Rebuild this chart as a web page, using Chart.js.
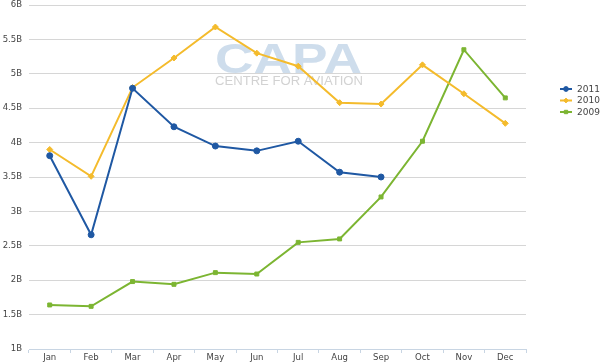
<!DOCTYPE html>
<html>
<head>
<meta charset="utf-8">
<script src="https://cdn.jsdelivr.net/npm/chart.js@4/dist/chart.umd.min.js"></script>
<style>
html,body{margin:0;padding:0;background:#fff;}
#wrap{width:600px;height:362px;position:relative;}
</style>
</head>
<body>
<div id="wrap"><canvas id="c" width="600" height="362"></canvas></div>
<script>
const categories = ["Jan","Feb","Mar","Apr","May","Jun","Jul","Aug","Sep","Oct","Nov","Dec"];
const seriesNames = ["2011","2010","2009"];
const values2011 = [3.81,2.66,4.79,4.23,3.95,3.88,4.02,3.57,3.50,null,null,null];
const values2010 = [3.90,3.51,4.80,5.23,5.68,5.30,5.11,4.58,4.56,5.13,4.71,4.28];
const values2009 = [1.64,1.62,1.98,1.94,2.11,2.09,2.55,2.60,3.21,4.02,5.35,4.65];
const yTicks = [1,1.5,2,2.5,3,3.5,4,4.5,5,5.5,6];
const watermarkMain = "CAPA";
const watermarkSub = "CENTRE FOR AVIATION";

const colors = ["#1f58a3","#f4bb2c","#7cb532"];
const styles = ["circle","rectRot","rect"];
const radii = [3,3,2.8];

const FONT = "'DejaVu Sans', Verdana, sans-serif";

const watermark = {
  id:'watermark',
  beforeDatasetsDraw(chart){
    const ctx = chart.ctx;
    ctx.save();
    ctx.font = "bold 43px 'Liberation Sans', Arial, sans-serif";
    ctx.textBaseline = 'alphabetic';
    ctx.fillStyle = "rgba(190,210,230,0.75)";
    const w = ctx.measureText(watermarkMain).width;
    ctx.translate(215, 73);
    ctx.scale(147 / w, 1);
    ctx.fillText(watermarkMain, 0, 0);
    ctx.restore();
    ctx.save();
    ctx.font = "12px 'Liberation Sans', Arial, sans-serif";
    ctx.fillStyle = "rgba(205,205,205,0.9)";
    const w2 = ctx.measureText(watermarkSub).width;
    ctx.translate(215, 84.5);
    ctx.scale(148 / w2, 1);
    ctx.fillText(watermarkSub, 0, 0);
    ctx.restore();
  }
};

const legendPlugin = {
  id:'customLegend',
  afterDraw(chart){
    const ctx = chart.ctx;
    const ys = [89,100.5,112];
    ctx.save();
    chart.data.datasets.forEach((ds,i)=>{
      const y = ys[i];
      ctx.strokeStyle = colors[i];
      ctx.lineWidth = 2;
      ctx.beginPath(); ctx.moveTo(560,y); ctx.lineTo(572,y); ctx.stroke();
      ctx.fillStyle = colors[i];
      ctx.lineWidth = 1;
      Chart.helpers.drawPoint(ctx,{pointStyle:styles[i],radius:2.4,borderWidth:1},566,y);
      ctx.fillStyle = "#444";
      ctx.font = "9px " + FONT;
      ctx.textBaseline = 'middle';
      ctx.textAlign = 'left';
      ctx.fillText(ds.label, 577, y+0.5);
    });
    ctx.restore();
  }
};

function mk(i, data){
  return {
    label: seriesNames[i],
    data: data,
    borderColor: colors[i],
    backgroundColor: colors[i],
    borderWidth: 2,
    pointStyle: styles[i],
    pointRadius: radii[i],
    pointHoverRadius: radii[i],
    pointBorderWidth: 1,
    tension: 0,
    spanGaps: false
  };
}

new Chart(document.getElementById('c'), {
  type:'line',
  data:{
    labels: categories,
    datasets:[mk(0,values2011), mk(1,values2010), mk(2,values2009)]
  },
  options:{
    responsive:false,
    animation:false,
    layout:{padding:{left:0,right:74,top:5,bottom:0}},
    plugins:{legend:{display:false}, tooltip:{enabled:false}},
    scales:{
      x:{
        offset:true,
        grid:{offset:true, drawOnChartArea:false, drawTicks:true, tickLength:4, color:'#c8d5e3'},
        border:{display:true, color:'#c8d5e3', width:1},
        ticks:{font:{family:FONT, size:8.5}, color:'#444', padding:0, maxRotation:0, autoSkip:false},
        afterFit(s){ s.height = 13; s.paddingLeft = 0; s.paddingRight = 0; }
      },
      y:{
        min:1, max:6,
        afterBuildTicks(s){ s.ticks = yTicks.map(v=>({value:v})); },
        grid:{color:'#d6d6d6', lineWidth:1, drawTicks:false},
        border:{display:false},
        ticks:{font:{family:FONT, size:8.5}, color:'#444', padding:7,
          callback:(v)=> v + 'B'},
        afterFit(s){ s.width = 29; s.paddingTop = 0; s.paddingBottom = 0; }
      }
    }
  },
  plugins:[watermark, legendPlugin]
});
</script>
</body>
</html>
